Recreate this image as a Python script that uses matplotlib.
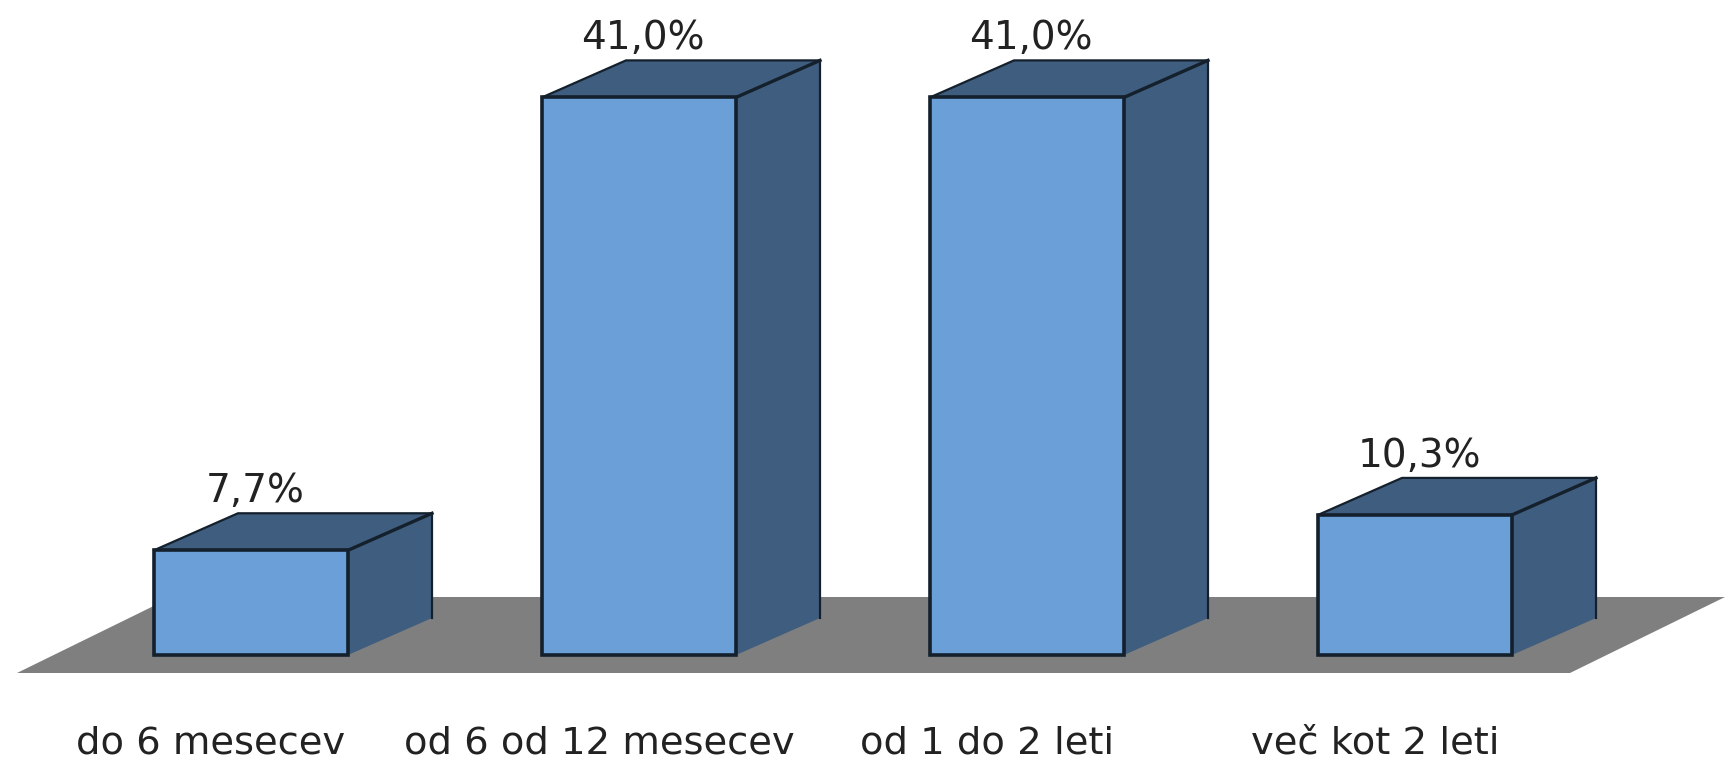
import matplotlib
matplotlib.use('Agg')
import matplotlib.pyplot as plt
from matplotlib.patches import Polygon, Rectangle

categories = ['do 6 mesecev', 'od 6 od 12 mesecev', 'od 1 do 2 leti', 'več kot 2 leti']
values = [7.7, 41.0, 41.0, 10.3]
value_labels = ['7,7%', '41,0%', '41,0%', '10,3%']

# pixel layout of the original picture
W, H = 1725, 761
PX_X = 388.0     # px between bars
PX_Y = 13.6      # px per percent
X0 = 251.0       # centre of first bar
Y0 = 655.0       # base of the bars
bar_w = 0.5
dx = 84 / PX_X
dy = 37 / PX_Y

front_c = '#6A9FD8'
dark_c = '#3F5D7E'
edge_c = '#14202C'
floor_c = '#7F7F7F'

fig = plt.figure(figsize=(W / 100, H / 100), dpi=100)
ax = fig.add_axes([0, 0, 1, 1])
ax.set_xlim(-X0 / PX_X, (W - X0) / PX_X)
ax.set_ylim(-(H - Y0) / PX_Y, Y0 / PX_Y)
ax.axis('off')

# floor, in axes fractions
floor = [(17 / W, 1 - 673 / H), (1570 / W, 1 - 673 / H), (1725 / W, 1 - 597 / H), (172 / W, 1 - 597 / H)]
ax.add_patch(Polygon(floor, closed=True, fc=floor_c, ec='none', transform=ax.transAxes, zorder=1))

for i, v in enumerate(values):
    l = i - bar_w / 2
    r = i + bar_w / 2
    # top and side faces
    ax.add_patch(Polygon([(l, v), (l + dx, v + dy), (r + dx, v + dy), (r, v)], closed=True, fc=dark_c, ec='none', zorder=2))
    ax.add_patch(Polygon([(r, v), (r + dx, v + dy), (r + dx, dy), (r, 0)], closed=True, fc=dark_c, ec='none', zorder=2))
    ax.plot([l, l + dx, r + dx, r + dx], [v, v + dy, v + dy, dy], color=edge_c, lw=1.6, zorder=3, solid_joinstyle='round')
    ax.plot([r, r + dx], [v, v + dy], color=edge_c, lw=2.4, zorder=3)
    ax.add_patch(Rectangle((l, 0), bar_w, v, fc=front_c, ec=edge_c, lw=2.6, zorder=4))
    ax.text(i + 4 / PX_X, v + dy + 22 / PX_Y, value_labels[i], ha='center', va='center',
            fontsize=28, color='#222222', zorder=5)
    ax.text(i - 40 / PX_X, -(743 - Y0) / PX_Y, categories[i], ha='center', va='center',
            fontsize=27.7, color='#222222', zorder=5)

fig.savefig('out.png', dpi=100)
